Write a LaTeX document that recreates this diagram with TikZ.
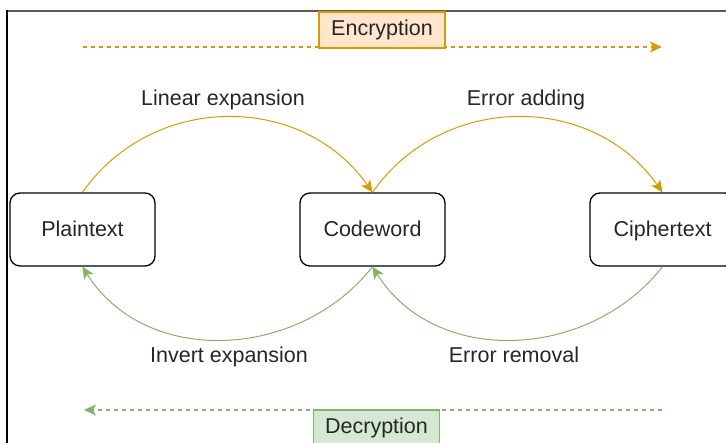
\documentclass[tikz,border=0pt]{standalone}
\usepackage{fontspec}
\setmainfont{Liberation Sans}
\usetikzlibrary{arrows.meta}

\definecolor{encline}{HTML}{D79B00}
\definecolor{encfill}{HTML}{FFE6CC}
\definecolor{decline}{HTML}{82B366}
\definecolor{decfill}{HTML}{D5E8D4}
\definecolor{txt}{HTML}{262626}

\begin{document}
\begin{tikzpicture}[x=1pt, y=-1pt,
    every node/.style={font=\fontsize{21.5}{25}\selectfont, text=txt},
    stage/.style ={rectangle, rounded corners=10pt, draw, line width=1.3pt, minimum width=145pt, minimum height=73pt, inner sep=0pt, text height=15pt, text depth=0pt},
    phase/.style ={rectangle, line width=1.2pt, minimum width=126pt, minimum height=36pt, inner sep=0pt},
    tip/.style ={-{Stealth[length=12pt, width=11pt, inset=3pt]}},
    encarrow/.style ={tip, encline, line width=1pt},
    decarrow/.style ={tip, decline, line width=1pt}]
   \useasboundingbox (0,0) rectangle (726,443);

   \draw[gray!70!black, line width=1.5pt] (7,11) -- (726,11);
   \draw[black, line width=1.5pt] (7,10.25) -- (7,443);

   \node[stage] (P)  at (82.5,229.5)  {Plaintext};
   \node[stage] (C)  at (372.5,229.5) {Codeword};
   \node[stage] (X)  at (662.5,229.5) {Ciphertext};

   \coordinate (encL) at (83,47);
   \coordinate (encR) at (662,47);
   \coordinate (decR) at (662,410);
   \coordinate (decL) at (84,410);

   \draw[encarrow, line width=1.5pt, dash pattern=on 4pt off 4pt] (encL) to (encR);
   \draw[decarrow, line width=1.5pt, dash pattern=on 4pt off 4pt] (decR) to (decL);

   \node[phase, draw=encline, fill=encfill] (enc) at (382,30)  {Encryption};
   \node[phase, draw=decline, fill=decfill] (dec) at (376.5,428) {Decryption};

   \draw[encarrow] (P.north) to[out=55, in=125, looseness=1.08] (C.north);
   \draw[encarrow] (C.north) to[out=55, in=125, looseness=1.08] (X.north);
   \draw[decarrow] (C.south) to[out=-128, in=-58, looseness=1.05] (P.south);
   \draw[decarrow] (X.south) to[out=-128, in=-58, looseness=1.05] (C.south);

   \node (lin) at (223,100)  {Linear expansion};
   \node (err) at (526,100)  {Error adding};
   \node (inv) at (229,357) {Invert expansion};
   \node (rem) at (514,355) {Error removal};

 \end{tikzpicture}
\end{document}
